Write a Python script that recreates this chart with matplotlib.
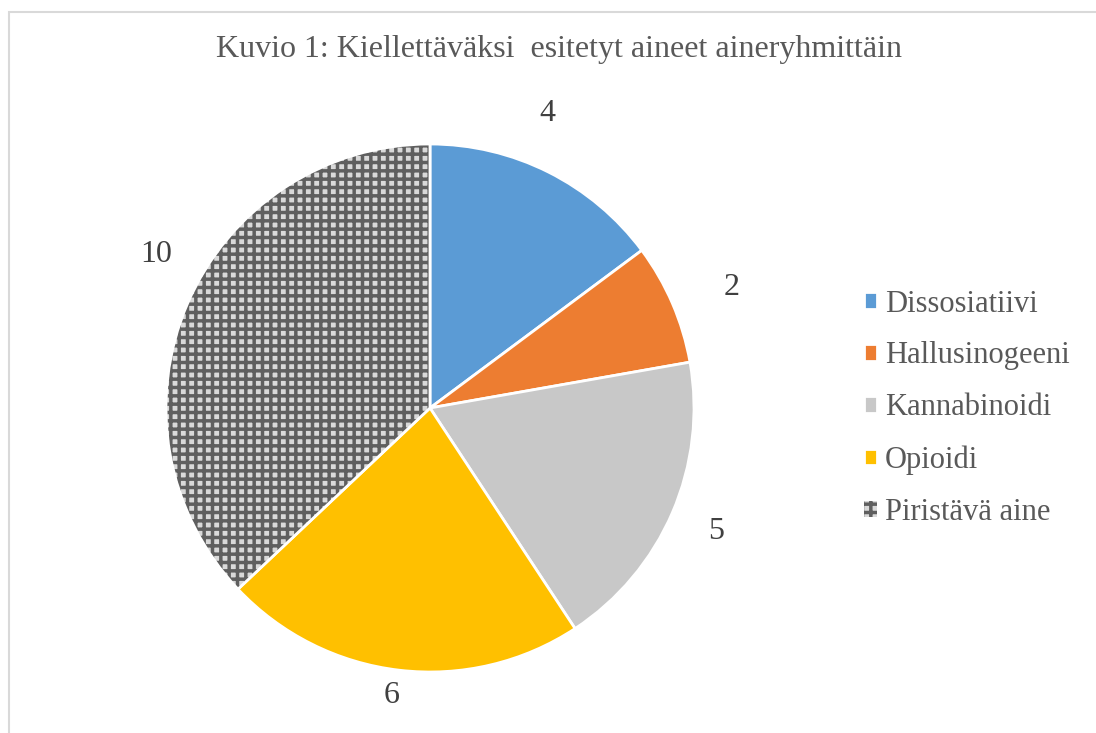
import matplotlib.pyplot as plt
from matplotlib.patches import Rectangle, Wedge
import numpy as np

plt.rcParams["font.family"] = ["Liberation Serif", "DejaVu Serif"]
plt.rcParams["hatch.linewidth"] = 2.5

# ------------------------------------------------------------
# Data
# ------------------------------------------------------------
TITLE = "Kuvio 1: Kiellettäväksi  esitetyt aineet aineryhmittäin"
categories = ["Dissosiatiivi", "Hallusinogeeni", "Kannabinoidi", "Opioidi", "Piristävä aine"]
counts = [4, 2, 5, 6, 10]
colors = ["#5B9BD5", "#ED7D31", "#C8C8C8", "#FFC000", "#D9D9D9"]

# label placement (distance in radii, angle nudge in degrees)
label_dist = [1.20, 1.23, 1.18, 1.10, 1.19]
label_nudge = [5, -1.5, 0, -1, -6]

W, H = 1096, 733
fig = plt.figure(figsize=(W / 100, H / 100), dpi=100)

# chart area border (only top/left visible in the crop)
fig.patches.append(Rectangle((8.5 / W, -0.1), 1.2, 1.1 - 11.5 / H,
                             transform=fig.transFigure, fill=False,
                             edgecolor="#d9d9d9", linewidth=1.5))

cx, cy, r = 430, 408, 264
ax = fig.add_axes([(cx - r) / W, (H - cy - r) / H, 2 * r / W, 2 * r / H])

wedges, _ = ax.pie(
    counts,
    colors=colors,
    startangle=90,
    counterclock=False,
    radius=1.0,
    wedgeprops=dict(edgecolor="white", linewidth=2),
)

# hatched slice: hatch follows edge colour, so redraw a white outline on top
hw = wedges[-1]
hw.set_hatch("++")
hw.set_edgecolor("#5F5F5F")
hw.set_linewidth(0)
ax.add_patch(Wedge(hw.center, hw.r, hw.theta1, hw.theta2,
                   fill=False, edgecolor="white", linewidth=2, zorder=3))

for w, val, d, nd in zip(wedges, counts, label_dist, label_nudge):
    mid = np.deg2rad((w.theta1 + w.theta2) / 2 + nd)
    ax.text(d * np.cos(mid), d * np.sin(mid), str(val),
            ha="center", va="center", fontsize=23, color="#404040")

ax.set_xlim(-1, 1)
ax.set_ylim(-1, 1)
ax.set_aspect("equal")
ax.axis("off")

fig.text(559 / W, 1 - 50 / H, TITLE, ha="center", va="center",
         fontsize=23, color="#595959")

fig.legend(
    wedges, categories,
    loc="upper left",
    bbox_to_anchor=(836 / W, 1 - 262 / H),
    frameon=False,
    fontsize=22,
    labelcolor="#595959",
    handlelength=0.45,
    handleheight=0.45,
    handletextpad=0.25,
    labelspacing=0.75,
)

fig.savefig("out.png", dpi=100)
